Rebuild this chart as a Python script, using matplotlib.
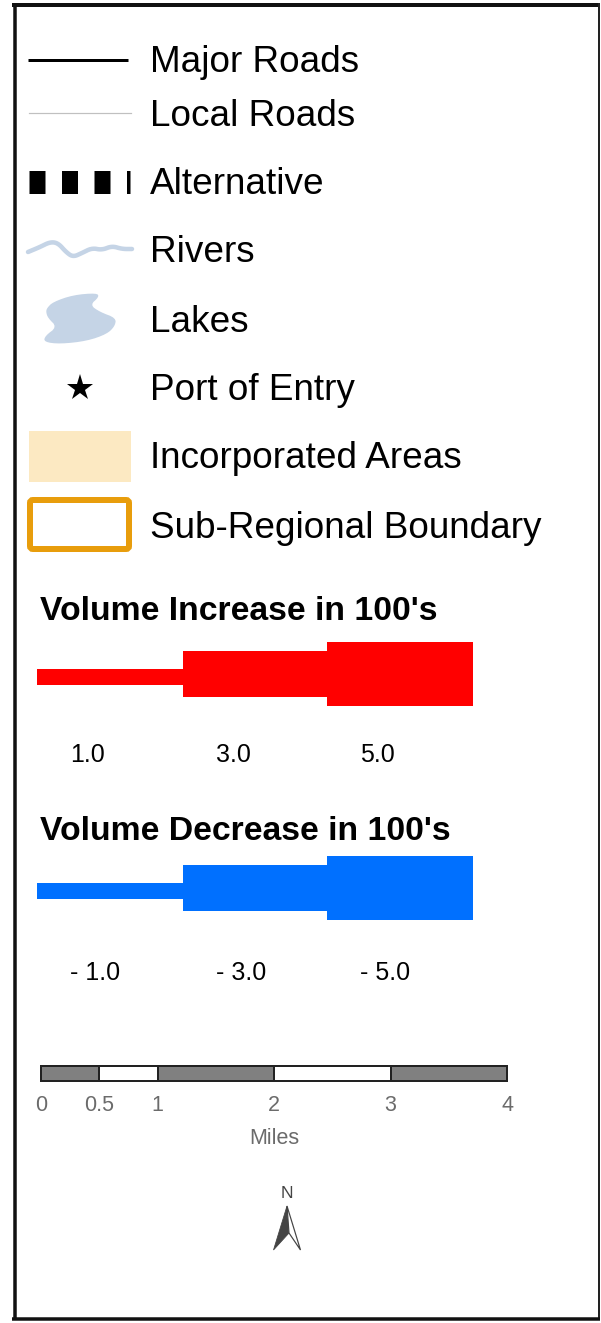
import numpy as np
import matplotlib
matplotlib.use("Agg")
from matplotlib import pyplot as plt
from matplotlib.patches import Polygon, Rectangle, FancyBboxPatch

plt.rcParams["font.family"] = ["Liberation Sans", "DejaVu Sans"]

# legend entries (top block)
legend_labels = [
    "Major Roads",
    "Local Roads",
    "Alternative",
    "Rivers",
    "Lakes",
    "Port of Entry",
    "Incorporated Areas",
    "Sub-Regional Boundary",
]
legend_rows = [60, 115, 183, 251, 320, 389, 457, 526]

# flow volume classes
volume_values = [1.0, 3.0, 5.0]
increase_title = "Volume Increase in 100's"
decrease_title = "Volume Decrease in 100's"
band_heights = [16, 46, 64]

# scale bar
scale_ticks = [0, 0.5, 1, 2, 3, 4]
scale_tick_labels = ["0", "0.5", "1", "2", "3", "4"]
scale_fill = ["#808080", "white", "#808080", "white", "#808080"]
scale_unit = "Miles"

W, H = 601, 1323
PT = 72 / 100  # pixels -> points


def chaikin(pts, n=3, closed=False):
    pts = np.asarray(pts, float)
    for _ in range(n):
        if closed:
            nxt = np.roll(pts, -1, axis=0)
            q = 0.75 * pts + 0.25 * nxt
            r = 0.25 * pts + 0.75 * nxt
            pts = np.empty((2 * len(q), 2))
            pts[0::2], pts[1::2] = q, r
        else:
            a, b = pts[:-1], pts[1:]
            q = 0.75 * a + 0.25 * b
            r = 0.25 * a + 0.75 * b
            mid = np.empty((2 * len(q), 2))
            mid[0::2], mid[1::2] = q, r
            pts = np.vstack([pts[:1], mid, pts[-1:]])
    return pts


fig = plt.figure(figsize=(W / 100, H / 100), dpi=100)
ax = fig.add_axes([0, 0, 1, 1])
ax.set_xlim(0, W)
ax.set_ylim(H, 0)
ax.axis("off")

# frame
ax.plot([14.5, 14.5], [3, 1320], color="#111111", lw=3.5 * PT, solid_capstyle="butt")
ax.plot([12, 600], [5, 5], color="#111111", lw=4 * PT, solid_capstyle="butt")
ax.plot([599, 599], [3, 1320], color="#222222", lw=2 * PT, solid_capstyle="butt")
ax.plot([12, 600], [1319, 1319], color="#111111", lw=3.5 * PT, solid_capstyle="butt")

# text labels
for label, y in zip(legend_labels, legend_rows):
    ax.text(150, y + 2, label, fontsize=26.6, va="center", ha="left", color="black")

sym_x0, sym_x1 = 28, 131
ymaj, yloc, yalt, yriv, ylak, ypor, yinc, ysub = legend_rows

ax.plot([sym_x0, 128], [ymaj, ymaj], color="black", lw=3 * PT, solid_capstyle="butt")
ax.plot([29, sym_x1], [yloc - 2, yloc - 2], color="#c0c0c0", lw=1.2 * PT)
ax.plot([29, 130], [yalt - 1, yalt - 1], color="black", lw=23 * PT,
        dashes=(16 / 23, 16.5 / 23), solid_capstyle="butt", dash_capstyle="butt")

river = chaikin([(28, 252), (40, 247), (50, 242), (58, 243), (66, 252), (73, 257),
                 (82, 253), (92, 248), (102, 250), (112, 246), (122, 249), (132, 249)], 3)
ax.plot(river[:, 0], river[:, 1], color="#c5d4e6", lw=4.5 * PT,
        solid_capstyle="round", solid_joinstyle="round")

lake = chaikin([(47, 308), (53, 302), (73, 295), (97, 293), (99, 297), (90, 305),
                (100, 312), (116, 318), (115, 326), (107, 334), (87, 341), (60, 344),
                (44, 342), (45, 336), (57, 327), (48, 318), (46, 312)], 2, closed=True)
ax.add_patch(Polygon(lake, closed=True, facecolor="#c5d4e6", edgecolor="none"))

ax.plot([80], [ypor - 1], marker="*", color="black", markersize=28 * PT, markeredgewidth=0)

ax.add_patch(Rectangle((29, 431), 102, 51, facecolor="#fce9c2", edgecolor="none"))
ax.add_patch(FancyBboxPatch((30, 500), 99, 49, boxstyle="round,pad=0,rounding_size=3",
                            facecolor="white", edgecolor="#e89d0c", lw=6 * PT))

# volume bands
seg_left = [37, 183, 327]
seg_w = 146
for title, ty, color, cy, ly, sign in [
    (increase_title, 612, "#ff0000", 675, 755, ""),
    (decrease_title, 831, "#0070ff", 889, 973, "- "),
]:
    ax.text(40, ty, title, fontsize=24.3, fontweight="bold", va="center", ha="left")
    centers = [cy + 2, cy - 1, cy - 1]
    ax.bar(seg_left, band_heights, width=seg_w,
           bottom=[c - h / 2 for c, h in zip(centers, band_heights)],
           align="edge", color=color, edgecolor="none")
    for x, v in zip(seg_left, volume_values):
        ax.text(x + 33, ly, f"{sign}{v:.1f}", fontsize=18, va="center", ha="left")

# scale bar
sb_x0, sb_px = 41, (507 - 41) / 4
lefts = [sb_x0 + sb_px * t for t in scale_ticks[:-1]]
widths = [sb_px * (b - a) for a, b in zip(scale_ticks[:-1], scale_ticks[1:])]
ax.barh([1073.5] * 5, widths, left=lefts, height=15, color=scale_fill,
        edgecolor="#222222", lw=2 * PT, align="center")
for t, lab in zip(scale_ticks, scale_tick_labels):
    ax.text(sb_x0 + sb_px * t, 1105.5, lab, fontsize=15.5, color="#6b6b6b",
            ha="center", va="center")
ax.text(sb_x0 + sb_px * 2, 1138.5, scale_unit, fontsize=15.5, color="#6b6b6b",
        ha="center", va="center")

# north arrow
ax.text(287, 1194, "N", fontsize=12.5, color="#444444", ha="center", va="center")
tip, lb, rb, notch = (287, 1206), (273.5, 1250), (300.5, 1250), (289, 1233)
ax.add_patch(Polygon([tip, lb, notch], closed=True, facecolor="#444444",
                     edgecolor="#444444", lw=0.8 * PT))
ax.add_patch(Polygon([tip, notch, rb], closed=True, facecolor="white",
                     edgecolor="#444444", lw=1.2 * PT))

fig.savefig("out.png", dpi=100)
